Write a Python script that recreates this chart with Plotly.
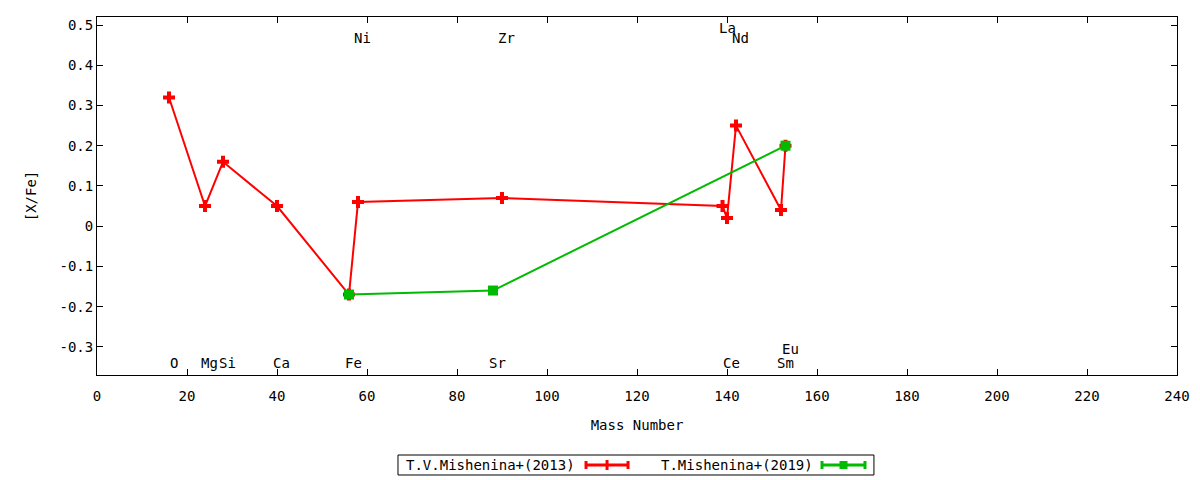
# [X/Fe] 对质量数的丰度图
import plotly.graph_objects as go

# 数据
red_name = 'T.V.Mishenina+(2013)'
red_mass = [16, 24, 28, 40, 56, 58, 90, 139, 140, 142, 152, 153]
red_xfe = [0.32, 0.05, 0.16, 0.05, -0.17, 0.06, 0.07, 0.05, 0.02, 0.25, 0.04, 0.20]

green_name = 'T.Mishenina+(2019)'
green_mass = [56, 88, 153]
green_xfe = [-0.17, -0.16, 0.20]

# 元素标签（质量数, 标签高度）
label_elements = ['O', 'Mg', 'Si', 'Ca', 'Fe', 'Ni', 'Sr', 'Zr', 'La', 'Ce', 'Nd', 'Sm', 'Eu']
label_mass = [16, 24, 28, 40, 56, 58, 88, 90, 139, 140, 142, 152, 153]
label_y = [-0.34, -0.34, -0.34, -0.34, -0.34, 0.467, -0.34, 0.467, 0.492, -0.34, 0.467, -0.34, -0.306]

x_ticks = list(range(0, 241, 20))
y_ticks = [-0.3, -0.2, -0.1, 0, 0.1, 0.2, 0.3, 0.4, 0.5]
y_tick_text = ['-0.3', '-0.2', '-0.1', '0', '0.1', '0.2', '0.3', '0.4', '0.5']

FONT = 'DejaVu Sans Mono'
FS = 14
RED = '#ff0000'
GREEN = '#00bb00'

fig = go.Figure()

fig.add_trace(go.Scatter(
    x=red_mass, y=red_xfe, mode='lines+markers', name=red_name,
    line=dict(color=RED, width=2),
    marker=dict(symbol='cross', size=10, color=RED),
    showlegend=False
))
fig.add_trace(go.Scatter(
    x=green_mass, y=green_xfe, mode='lines+markers', name=green_name,
    line=dict(color=GREEN, width=2),
    marker=dict(symbol='square', size=10, color=GREEN),
    showlegend=False
))

# 元素名称
for el, m, ly in zip(label_elements, label_mass, label_y):
    fig.add_annotation(x=m + 1, y=ly, text=el, showarrow=False,
                       xanchor='center', yanchor='middle',
                       font=dict(family=FONT, size=FS, color='black'))

# 手工图例（gnuplot 风格：文字在前，样例在后）
shapes = [dict(type='rect', xref='paper', yref='paper',
               x0=0.2787, x1=0.7194, y0=-0.2793, y1=-0.2235,
               line=dict(color='black', width=1))]
legend_items = [(red_name, RED, 0.4444, 0.4528, 0.4917, 'cross'),
                (green_name, GREEN, 0.6648, 0.6713, 0.7111, 'square')]
ly = -0.2514
for name, col, tx, x0, x1, sym in legend_items:
    fig.add_annotation(x=tx, y=ly, xref='paper', yref='paper', text=name,
                       showarrow=False, xanchor='right', yanchor='middle',
                       font=dict(family=FONT, size=FS, color='black'))
    shapes.append(dict(type='line', xref='paper', yref='paper',
                       x0=x0, x1=x1, y0=ly, y1=ly, line=dict(color=col, width=3)))
    for xe in (x0, x1):
        shapes.append(dict(type='rect', xref='paper', yref='paper',
                           xsizemode='pixel', ysizemode='pixel',
                           xanchor=xe, yanchor=ly, x0=-1.5, x1=1.5, y0=-4, y1=4,
                           fillcolor=col, line=dict(width=0)))
    xm = (x0 + x1) / 2
    if sym == 'cross':
        shapes.append(dict(type='rect', xref='paper', yref='paper',
                           xsizemode='pixel', ysizemode='pixel',
                           xanchor=xm, yanchor=ly, x0=-1.5, x1=1.5, y0=-5, y1=5,
                           fillcolor=col, line=dict(width=0)))
    else:
        shapes.append(dict(type='rect', xref='paper', yref='paper',
                           xsizemode='pixel', ysizemode='pixel',
                           xanchor=xm, yanchor=ly, x0=-4, x1=4, y0=-4, y1=4,
                           fillcolor=col, line=dict(width=0)))

fig.update_layout(
    width=1184, height=470,
    margin=dict(l=89, r=15, t=9, b=103),
    paper_bgcolor='white', plot_bgcolor='white',
    font=dict(family=FONT, size=FS, color='black'),
    shapes=shapes,
    xaxis=dict(
        title=dict(text='Mass Number', standoff=17, font=dict(family=FONT, size=FS)),
        range=[0, 240], tickvals=x_ticks, automargin=False,
        showgrid=False, zeroline=False,
        showline=True, linecolor='black', linewidth=1, mirror='allticks',
        ticks='inside', ticklen=6, tickcolor='black', ticklabelstandoff=8
    ),
    yaxis=dict(
        title=dict(text='[X/Fe]', standoff=19, font=dict(family=FONT, size=FS)),
        range=[-0.37, 0.52], tickvals=y_ticks, ticktext=y_tick_text, automargin=False,
        showgrid=False, zeroline=False,
        showline=True, linecolor='black', linewidth=1, mirror='allticks',
        ticks='inside', ticklen=6, tickcolor='black'
    ),
    showlegend=False
)

fig.write_html('out.html')
